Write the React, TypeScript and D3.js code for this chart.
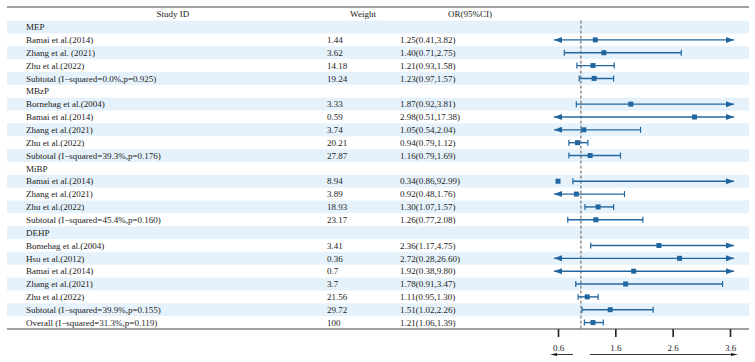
import React, { useEffect, useRef } from 'react';
import * as d3 from 'd3';

// Rows of the forest plot, top to bottom. Group headers have no estimate.
const studyLabels = [
  'MEP',
  'Bamai et al.(2014)',
  'Zhang et al. (2021)',
  'Zhu et al.(2022)',
  'Subtotal (I\u2212squared=0.0%,p=0.925)',
  'MBzP',
  'Bornehag et al.(2004)',
  'Bamai et al.(2014)',
  'Zhang et al.(2021)',
  'Zhu et al.(2022)',
  'Subtotal (I\u2212squared=39.3%,p=0.176)',
  'MiBP',
  'Bamai et al.(2014)',
  'Zhang et al.(2021)',
  'Zhu et al.(2022)',
  'Subtotal (I\u2212squared=45.4%,p=0.160)',
  'DEHP',
  'Bomehag et al.(2004)',
  'Hsu et al.(2012)',
  'Bamai et al.(2014)',
  'Zhang et al.(2021)',
  'Zhu et al.(2022)',
  'Subtotal (I\u2212squared=39.9%,p=0.155)',
  'Overall (I\u2212squared=31.3%,p=0.119)',
];

const weights = [
  '', '1.44', '3.62', '14.18', '19.24',
  '', '3.33', '0.59', '3.74', '20.21', '27.87',
  '', '8.94', '3.89', '18.93', '23.17',
  '', '3.41', '0.36', '0.7', '3.7', '21.56', '29.72',
  '100',
];

const oddsRatios = [
  null, 1.25, 1.40, 1.21, 1.23,
  null, 1.87, 2.98, 1.05, 0.94, 1.16,
  null, 0.34, 0.92, 1.30, 1.26,
  null, 2.36, 2.72, 1.92, 1.78, 1.11, 1.51,
  1.21,
];

const ciLower = [
  null, 0.41, 0.71, 0.93, 0.97,
  null, 0.92, 0.51, 0.54, 0.79, 0.79,
  null, 0.86, 0.48, 1.07, 0.77,
  null, 1.17, 0.28, 0.38, 0.91, 0.95, 1.02,
  1.06,
];

const ciUpper = [
  null, 3.82, 2.75, 1.58, 1.57,
  null, 3.81, 17.38, 2.04, 1.12, 1.69,
  null, 92.99, 1.76, 1.57, 2.08,
  null, 4.75, 26.60, 9.80, 3.47, 1.30, 2.26,
  1.39,
];

const axisTicks = [0.6, 1.6, 2.6, 3.6];
const nullValue = 1;

const W = 755;
const H = 362;
const BLUE = '#22669f';
const TEXT = '#222';
const FONT = '"Liberation Serif", "Times New Roman", serif';

export default function App() {
  const svgRef = useRef<SVGSVGElement>(null);

  useEffect(() => {
    if (!svgRef.current) return;
    const svg = d3.select(svgRef.current);
    svg.selectAll('*').remove();

    const left = 7;
    const right = 749;
    const top = 7;
    const bodyTop = 20.6;
    const bottom = 329;

    const x = d3.scaleLinear().domain([0.6, 3.6]).range([558, 730]);
    const [lo, hi] = x.domain();

    const y = d3
      .scaleBand<number>()
      .domain(d3.range(studyLabels.length))
      .range([bodyTop, bottom])
      .padding(0);
    const rowMid = (i: number) => (y(i) || 0) + y.bandwidth() / 2;

    // striped row backgrounds
    svg
      .append('g')
      .selectAll('rect')
      .data(d3.range(studyLabels.length).filter(i => i % 2 === 0))
      .enter()
      .append('rect')
      .attr('x', left)
      .attr('y', i => y(i) || 0)
      .attr('width', right - left)
      .attr('height', y.bandwidth())
      .attr('fill', '#e6f2fb');

    // top rule and bottom axis line
    svg.append('line')
      .attr('x1', left).attr('x2', right)
      .attr('y1', top).attr('y2', top)
      .attr('stroke', '#444').attr('stroke-width', 1.2);
    svg.append('line')
      .attr('x1', left).attr('x2', right)
      .attr('y1', bottom).attr('y2', bottom)
      .attr('stroke', '#444').attr('stroke-width', 1.2);

    // column headers
    const headers = [
      { text: 'Study ID', x: 173 },
      { text: 'Weight', x: 363 },
      { text: 'OR(95%CI)', x: 470 },
    ];
    svg.append('g')
      .selectAll('text')
      .data(headers)
      .enter()
      .append('text')
      .attr('x', d => d.x)
      .attr('y', (top + bodyTop) / 2 + 3.2)
      .attr('text-anchor', 'middle')
      .attr('font-family', FONT)
      .attr('font-size', 9)
      .attr('fill', TEXT)
      .text(d => d.text);

    const rows = svg.append('g').attr('font-family', FONT).attr('font-size', 9).attr('fill', TEXT);
    rows.selectAll('text.label')
      .data(studyLabels)
      .enter()
      .append('text')
      .attr('class', 'label')
      .attr('x', 26)
      .attr('y', (_, i) => rowMid(i) + 3.2)
      .text(d => d);
    rows.selectAll('text.weight')
      .data(weights)
      .enter()
      .append('text')
      .attr('class', 'weight')
      .attr('x', 327)
      .attr('y', (_, i) => rowMid(i) + 3.2)
      .text(d => d);
    rows.selectAll('text.or')
      .data(oddsRatios)
      .enter()
      .append('text')
      .attr('class', 'or')
      .attr('x', 400)
      .attr('y', (_, i) => rowMid(i) + 3.2)
      .text((d, i) =>
        d == null
          ? ''
          : `${d.toFixed(2)}(${(ciLower[i] as number).toFixed(2)},${(ciUpper[i] as number).toFixed(2)})`
      );

    // null line
    svg.append('line')
      .attr('x1', x(nullValue)).attr('x2', x(nullValue))
      .attr('y1', bodyTop).attr('y2', bottom)
      .attr('stroke', '#555')
      .attr('stroke-width', 1)
      .attr('stroke-dasharray', '3,2');

    // confidence intervals, clipped to the axis range with arrowheads
    const ci = svg.append('g');
    const arrowOut = 4;
    const arrowLen = 8;
    const capH = 3;
    oddsRatios.forEach((or, i) => {
      if (or == null) return;
      const l = ciLower[i] as number;
      const u = ciUpper[i] as number;
      const cy = rowMid(i);
      const x1 = l < lo ? x(lo) - arrowOut : x(l);
      const x2 = u > hi ? x(hi) + arrowOut : x(u);
      ci.append('line')
        .attr('x1', x1).attr('x2', x2)
        .attr('y1', cy).attr('y2', cy)
        .attr('stroke', BLUE).attr('stroke-width', 1.4);
      if (l < lo) {
        ci.append('path')
          .attr('d', `M${x1},${cy}L${x1 + arrowLen},${cy - 3}L${x1 + arrowLen},${cy + 3}Z`)
          .attr('fill', BLUE);
      } else {
        ci.append('line')
          .attr('x1', x1).attr('x2', x1)
          .attr('y1', cy - capH).attr('y2', cy + capH)
          .attr('stroke', BLUE).attr('stroke-width', 1.2);
      }
      if (u > hi) {
        ci.append('path')
          .attr('d', `M${x2},${cy}L${x2 - arrowLen},${cy - 3}L${x2 - arrowLen},${cy + 3}Z`)
          .attr('fill', BLUE);
      } else {
        ci.append('line')
          .attr('x1', x2).attr('x2', x2)
          .attr('y1', cy - capH).attr('y2', cy + capH)
          .attr('stroke', BLUE).attr('stroke-width', 1.2);
      }
      const px = x(Math.max(lo, Math.min(hi, or)));
      ci.append('rect')
        .attr('x', px - 2.5)
        .attr('y', cy - 2.5)
        .attr('width', 5)
        .attr('height', 5)
        .attr('fill', BLUE);
    });

    // bottom axis
    const axis = svg
      .append('g')
      .attr('transform', `translate(0,${bottom})`)
      .call(
        d3.axisBottom(x)
          .tickValues(axisTicks)
          .tickSize(8)
          .tickPadding(8)
          .tickFormat(d3.format('.1f'))
      );
    axis.select('.domain').remove();
    axis.selectAll('line').attr('stroke', '#222').attr('stroke-width', 1.6);
    axis.selectAll('text')
      .attr('font-family', FONT)
      .attr('font-size', 9)
      .attr('fill', TEXT);

    // favour arrows under the axis labels
    const ay = 354.5;
    const favour = svg.append('g').attr('fill', '#222').attr('stroke', '#222');
    const lStart = x(nullValue) - 8;
    const lTip = x(lo) - 8;
    const rStart = x(nullValue) + 9;
    const rTip = x(hi) + 8;
    favour.append('line')
      .attr('x1', lStart).attr('x2', lTip + 5)
      .attr('y1', ay).attr('y2', ay).attr('stroke-width', 0.9);
    favour.append('path')
      .attr('d', `M${lTip},${ay}L${lTip + 7},${ay - 1.6}L${lTip + 7},${ay + 1.6}Z`)
      .attr('stroke', 'none');
    favour.append('line')
      .attr('x1', rStart).attr('x2', rTip - 5)
      .attr('y1', ay).attr('y2', ay).attr('stroke-width', 0.9);
    favour.append('path')
      .attr('d', `M${rTip},${ay}L${rTip - 7},${ay - 1.6}L${rTip - 7},${ay + 1.6}Z`)
      .attr('stroke', 'none');
  }, []);

  return (
    <svg
      ref={svgRef}
      width={W}
      height={H}
      style={{ position: 'absolute', left: 0, top: 0, background: '#fff' }}
    />
  );
}
